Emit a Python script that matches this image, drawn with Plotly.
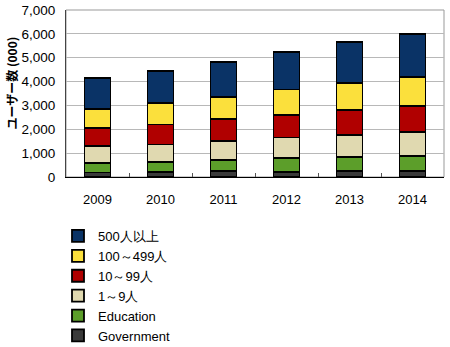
import plotly.graph_objects as go

years = ["2009", "2010", "2011", "2012", "2013", "2014"]

government = [190, 195, 240, 220, 250, 250]
education = [410, 445, 480, 575, 590, 645]
small_1_9 = [685, 725, 800, 865, 935, 1005]
mid_10_99 = [780, 840, 910, 935, 1035, 1075]
mid_100_499 = [800, 890, 920, 1075, 1145, 1230]
large_500 = [1290, 1360, 1470, 1565, 1690, 1800]

series = [
    ("Government", government, "#3a3a3a"),
    ("Education", education, "#5c9e2a"),
    ("1～9人", small_1_9, "#e0d9b0"),
    ("10～99人", mid_10_99, "#b00000"),
    ("100～499人", mid_100_499, "#fbe03c"),
    ("500人以上", large_500, "#0a3366"),
]

fig = go.Figure()
for name, vals, color in series:
    fig.add_trace(go.Bar(
        x=years, y=vals, name=name,
        marker=dict(color=color, line=dict(color="#000000", width=1.8)),
        width=0.41,
    ))

font_family = "Liberation Sans, Arial, sans-serif"

fig.update_layout(
    barmode="stack",
    width=450, height=347,
    margin=dict(l=66, r=6, t=10, b=170, autoexpand=False),
    paper_bgcolor="white",
    plot_bgcolor="white",
    font=dict(family=font_family, size=13, color="#000000"),
    showlegend=True,
    legend=dict(
        traceorder="reversed",
        orientation="v",
        xref="container", yref="container",
        x=58 / 450, xanchor="left",
        y=1 - 221 / 347, yanchor="top",
        font=dict(size=13, family=font_family),
        itemwidth=30,
        tracegroupgap=0,
        bgcolor="rgba(0,0,0,0)",
    ),
    xaxis=dict(
        showline=True, linecolor="#000000", linewidth=1,
        mirror=False,
        ticks="inside", tickson="boundaries", ticklen=4, tickcolor="#555555",
        tickfont=dict(size=13),
        ticklabelstandoff=10,
        showgrid=False,
    ),
    yaxis=dict(
        range=[0, 7000], dtick=1000, tickformat=",d",
        showline=True, linecolor="#444444", linewidth=1,
        showgrid=True, gridcolor="#b8b8b8", gridwidth=1,
        ticks="", tickfont=dict(size=13.5),
        ticklabelstandoff=7,
        zeroline=False,
    ),
)

# y-axis title, rotated along the left edge
fig.add_annotation(
    text="<b>ユーザー数 (000)</b>",
    xref="paper", yref="paper", x=-55 / 378, y=0.56,
    xanchor="center", yanchor="middle",
    textangle=-90, showarrow=False,
    font=dict(size=12, family="Noto Sans CJK JP, sans-serif", color="#000000"),
)

# thin gray frame on the top and right of the plot area
fig.add_shape(type="rect", xref="paper", yref="paper", x0=0, y0=0, x1=1, y1=1,
              line=dict(color="#999999", width=1), fillcolor="rgba(0,0,0,0)", layer="below")

fig.write_html("out.html")
